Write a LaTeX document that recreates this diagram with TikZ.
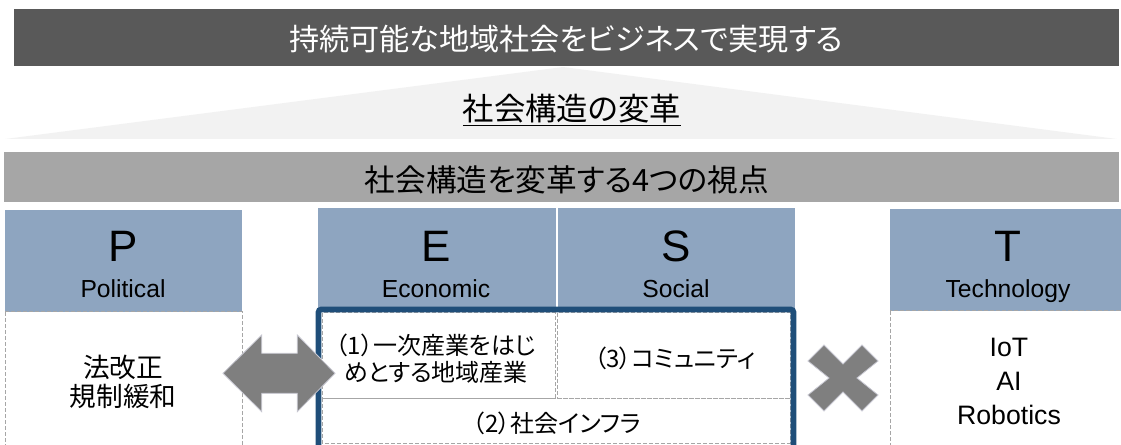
\documentclass[tikz,border=0pt]{standalone}
\usepackage{fontspec}
\setmainfont{Liberation Sans}
\newfontfamily\jp[RawFeature=+palt]{Noto Sans CJK JP}
\definecolor{darkbar}{HTML}{595959}
\definecolor{tri}{HTML}{F2F2F2}
\definecolor{graybar}{HTML}{A6A6A6}
\definecolor{hdr}{HTML}{8EA5C0}
\definecolor{navy}{HTML}{1F4E79}
\definecolor{dashgray}{HTML}{A6A6A6}
\definecolor{shapegray}{HTML}{7F7F7F}
\tikzset{
  head/.style={font=\jp\fontsize{23}{28}\selectfont},
  letter/.style={anchor=base, font=\fontsize{33}{36}\selectfont},
  word/.style={anchor=base, font=\fontsize{18.5}{22}\selectfont},
  dbox/.style={draw=dashgray, line width=0.75pt, dash pattern=on 3pt off 1.5pt},
  boxtext/.style={font=\jp\fontsize{18}{20}\selectfont, align=center},
  bigshape/.style={fill=shapegray, draw=blue!10!gray!40, line width=0.6pt}
}
\begin{document}
\begin{tikzpicture}[x=0.75pt,y=-0.75pt]
\useasboundingbox (0,0) rectangle (1121,445);
\clip (0,0) rectangle (1121,445);
% top bar
\fill[darkbar] (14,9) rectangle (1119,66);
\node[head, font=\jp\fontsize{22.6}{28}\selectfont, text=white] (title) at (566,39) {持続可能な地域社会をビジネスで実現する};
% triangle
\fill[tri] (563,67) -- (1117,139) -- (5,139) -- cycle;
\node[head, font=\jp\fontsize{23.5}{28}\selectfont] (change) at (572,110) {\underline{社会構造の変革}};
% gray bar
\fill[graybar] (4,152) rectangle (1119,202);
\node[head] (four) at (567,180) {社会構造を変革する4つの視点};
% headers
\fill[hdr] (5,210) rectangle (242,312);
\fill[hdr] (318,208) rectangle (555.5,309);
\fill[hdr] (558,208) rectangle (795,309);
\fill[hdr] (890,209) rectangle (1121,311);
\node[letter] (P) at (123,262) {P};
\node[word] (Pw) at (123,298) {Political};
\node[letter] (E) at (436,262) {E};
\node[word] (Ew) at (436,298) {Economic};
\node[letter] (S) at (676,262) {S};
\node[word] (Sw) at (676,298) {Social};
\node[letter] (T) at (1008,262) {T};
\node[word] (Tw) at (1008,298) {Technology};
% dashed lower boxes
\draw[dbox] (5,312) rectangle (242,470);
\draw[dbox] (890,311) rectangle (1125,470);
\draw[dbox] (322,313) rectangle (555,398);
\draw[dbox] (557.5,313) rectangle (790,398);
\draw[dbox] (322,398) rectangle (790,443);
% navy frame
\draw[navy, line width=4.2pt, rounded corners=2pt] (318.5,309.5) rectangle (793.5,480);
% texts
\node[font=\jp\fontsize{20}{21.75}\selectfont, align=center] (law) at (123,382) {法改正\\規制緩和};
\node[boxtext, font=\jp\fontsize{18}{20.25}\selectfont] (econ) at (436,359) {（1）一次産業をはじ\\めとする地域産業};
\node[boxtext] (comm) at (675,358) {（3）コミュニティ};
\node[boxtext] (infra) at (557,423) {（2）社会インフラ};
\node[font=\fontsize{20}{25.5}\selectfont, align=center] (tech) at (1009,381) {IoT\\AI\\Robotics};
% double arrow
\path[bigshape] (223,373.3) -- (261.7,335) -- (261.7,353.3) -- (297.3,353.3) -- (297.3,335)
  -- (335,373.3) -- (297.3,411.7) -- (297.3,393.3) -- (261.7,393.3) -- (261.7,411.7) -- cycle;
% cross
\path[bigshape] (808,361) -- (824,345) -- (843,364) -- (862,345) -- (878,361) -- (857,378)
  -- (878,395) -- (862,411) -- (843,392) -- (824,411) -- (808,395) -- (829,378) -- cycle;
\end{tikzpicture}
\end{document}
